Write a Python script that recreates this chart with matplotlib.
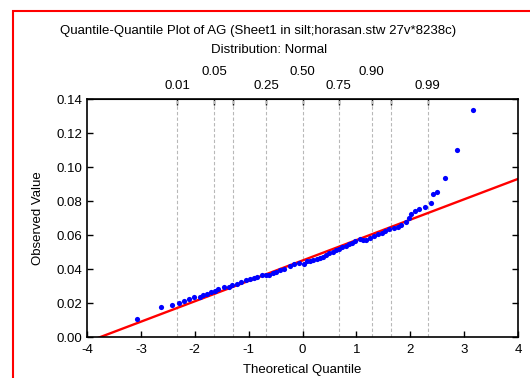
import numpy as np
import matplotlib.pyplot as plt
from matplotlib.patches import Rectangle

plt.rcParams['font.family'] = ['Liberation Sans', 'DejaVu Sans']
plt.rcParams['axes.unicode_minus'] = False

theo = [-3.08, -2.63, -2.42, -2.30, -2.20, -2.11, -2.01, -1.91, -1.84, -1.77,
        -1.70, -1.63, -1.56, -1.46, -1.36, -1.30, -1.22, -1.15, -1.04, -0.97,
        -0.90, -0.85, -0.75, -0.68, -0.62, -0.55, -0.49, -0.42, -0.34, -0.24,
        -0.15, -0.07, 0.02, 0.08, 0.14, 0.20, 0.26, 0.32, 0.38, 0.44,
        0.50, 0.56, 0.62, 0.68, 0.74, 0.80, 0.86, 0.92, 0.98, 1.06,
        1.12, 1.18, 1.25, 1.32, 1.40, 1.47, 1.54, 1.61, 1.70, 1.77,
        1.83, 1.92, 1.98, 2.02, 2.09, 2.17, 2.28, 2.38, 2.43, 2.49,
        2.65, 2.86, 3.17]
observed = [0.0106, 0.0176, 0.0190, 0.0202, 0.0214, 0.0224, 0.0236, 0.0234, 0.0245, 0.0255,
            0.0263, 0.0272, 0.0283, 0.0296, 0.0294, 0.0306, 0.0314, 0.0324, 0.0333, 0.0340,
            0.0350, 0.0353, 0.0367, 0.0362, 0.0367, 0.0378, 0.0384, 0.0392, 0.0400, 0.0418,
            0.0429, 0.0437, 0.0432, 0.0449, 0.0447, 0.0452, 0.0458, 0.0465, 0.0472, 0.0482,
            0.0493, 0.0502, 0.0510, 0.0515, 0.0528, 0.0538, 0.0545, 0.0555, 0.0565, 0.0575,
            0.0568, 0.0571, 0.0585, 0.0594, 0.0604, 0.0614, 0.0622, 0.0633, 0.0640, 0.0645,
            0.0659, 0.0675, 0.0698, 0.0722, 0.0743, 0.0755, 0.0767, 0.0790, 0.0840, 0.0851,
            0.0934, 0.1098, 0.1335]

# fitted normal line (mean, sd)
fit_mean = 0.045
fit_sd = 0.012

# probability scale on top
probs = [0.01, 0.05, 0.10, 0.25, 0.50, 0.75, 0.90, 0.95, 0.99]
prob_z = [-2.326, -1.645, -1.282, -0.674, 0.0, 0.674, 1.282, 1.645, 2.326]
upper_labels = {0.05: "0.05", 0.50: "0.50", 0.90: "0.90"}
lower_labels = {0.01: "0.01", 0.25: "0.25", 0.75: "0.75", 0.99: "0.99"}

fs = 9.5
fig = plt.figure(figsize=(5.3, 3.78), dpi=100)
ax = fig.add_axes([87/530, 1-337/378, 431/530, 238/378])

for z in prob_z:
    ax.axvline(z, color='#b8b8b8', ls=(0, (3, 2)), lw=0.8, zorder=1)

xl = np.array([-4, 4])
ax.plot(xl, fit_mean + fit_sd*xl, color='#ff0000', lw=1.7, zorder=2)
ax.scatter(theo, observed, s=14, color='#0000ff', zorder=3, linewidths=0)

ax.set_xlim(-4, 4)
ax.set_ylim(0, 0.14)
ax.set_xticks(range(-4, 5))
ax.set_yticks(np.arange(0, 0.141, 0.02))
ax.yaxis.set_major_formatter(plt.FuncFormatter(lambda v, p: "%.2f" % v))
ax.tick_params(direction='in', length=4, width=1, labelsize=fs, right=True)
ax.tick_params(axis='x', pad=5)
for s in ax.spines.values():
    s.set_linewidth(1.2)

ax.set_xlabel("Theoretical Quantile", fontsize=fs, labelpad=6)
ax.set_ylabel("Observed Value", fontsize=fs, labelpad=9)

top = ax.secondary_xaxis('top')
top.set_xticks(prob_z)
top.set_xticklabels([""]*len(prob_z))
top.tick_params(direction='in', length=4, width=1)
for p, z in zip(probs, prob_z):
    if p in upper_labels:
        ax.text(z, 1 + 27/238, upper_labels[p], transform=ax.get_xaxis_transform(),
                ha='center', va='center', fontsize=fs)
    if p in lower_labels:
        ax.text(z, 1 + 13/238, lower_labels[p], transform=ax.get_xaxis_transform(),
                ha='center', va='center', fontsize=fs)

fig.text(258/530, 1-31/378, "Quantile-Quantile Plot of AG (Sheet1 in silt;horasan.stw 27v*8238c)",
         ha='center', va='center', fontsize=fs)
fig.text(269/530, 1-50/378, "Distribution: Normal", ha='center', va='center', fontsize=fs)

fig.patches.append(Rectangle((13/530, -0.1), 1.2, 0.1 + 1 - 11/378, transform=fig.transFigure,
                             fill=False, edgecolor='#ff0000', lw=1.5))

fig.savefig("out.png", dpi=100)
